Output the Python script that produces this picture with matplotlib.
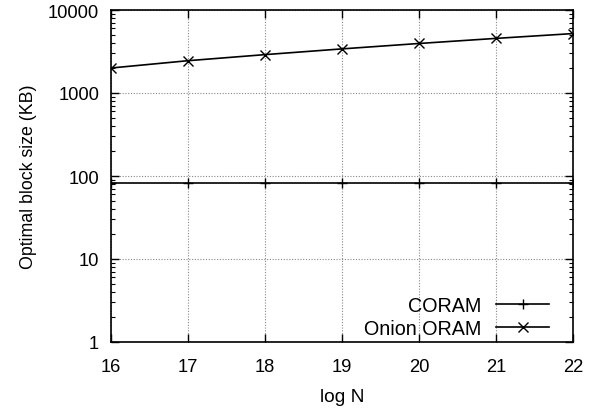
import matplotlib
matplotlib.use("Agg")
import matplotlib.pyplot as plt
from matplotlib.ticker import LogLocator, NullFormatter

plt.rcParams['font.family'] = ['Liberation Sans', 'DejaVu Sans']

log_n = [16, 17, 18, 19, 20, 21, 22]
coram = [82, 82, 82, 82, 82, 82, 82]
onion = [2000, 2450, 2900, 3400, 3950, 4550, 5200]
yticks = [1, 10, 100, 1000, 10000]
ytick_labels = ["1", "10", "100", "1000", "10000"]

fig = plt.figure(figsize=(5.99, 4.14), dpi=100)
ax = fig.add_axes([111/599, 1 - 343/414, (573-111)/599, (343-11)/414])

ax.plot(log_n, coram, color='black', lw=1.2, marker='+', ms=7.5, mew=1.0, label='CORAM')
ax.plot(log_n, onion, color='black', lw=1.2, marker='x', ms=7, mew=1.0, label='Onion ORAM')

ax.set_yscale('log')
ax.set_xlim(16, 22)
ax.set_ylim(1, 10000)
ax.set_xticks(log_n)
ax.set_yticks(yticks)
ax.set_yticklabels(ytick_labels)
ax.yaxis.set_minor_locator(LogLocator(base=10, subs=range(2, 10)))
ax.yaxis.set_minor_formatter(NullFormatter())

ax.grid(True, which='major', color='#888888', linestyle=(0, (1, 1.5)), lw=0.8)
ax.tick_params(which='both', direction='in', top=True, right=True, labelsize=13.2, colors='black')
ax.tick_params(which='major', length=6, width=1)
ax.tick_params(which='minor', length=3, width=0.8)
ax.tick_params(axis='x', which='major', pad=11.5)
ax.tick_params(axis='y', which='major', pad=8.6)
for s in ax.spines.values():
    s.set_linewidth(1.2)

ax.set_xlabel('log N', fontsize=13.8, labelpad=9.5)
ax.set_ylabel('Optimal block size (KB)', fontsize=12.8, labelpad=8)

leg = ax.legend(loc='lower right', bbox_to_anchor=((549-111)/462, 0.012),
                frameon=False, fontsize=14.2, markerfirst=False,
                handlelength=2.67, handletextpad=0.77, borderaxespad=0, borderpad=0,
                labelspacing=0.2)
for t in leg.get_texts():
    t.set_ha('right')

fig.savefig('out.png', dpi=100)
